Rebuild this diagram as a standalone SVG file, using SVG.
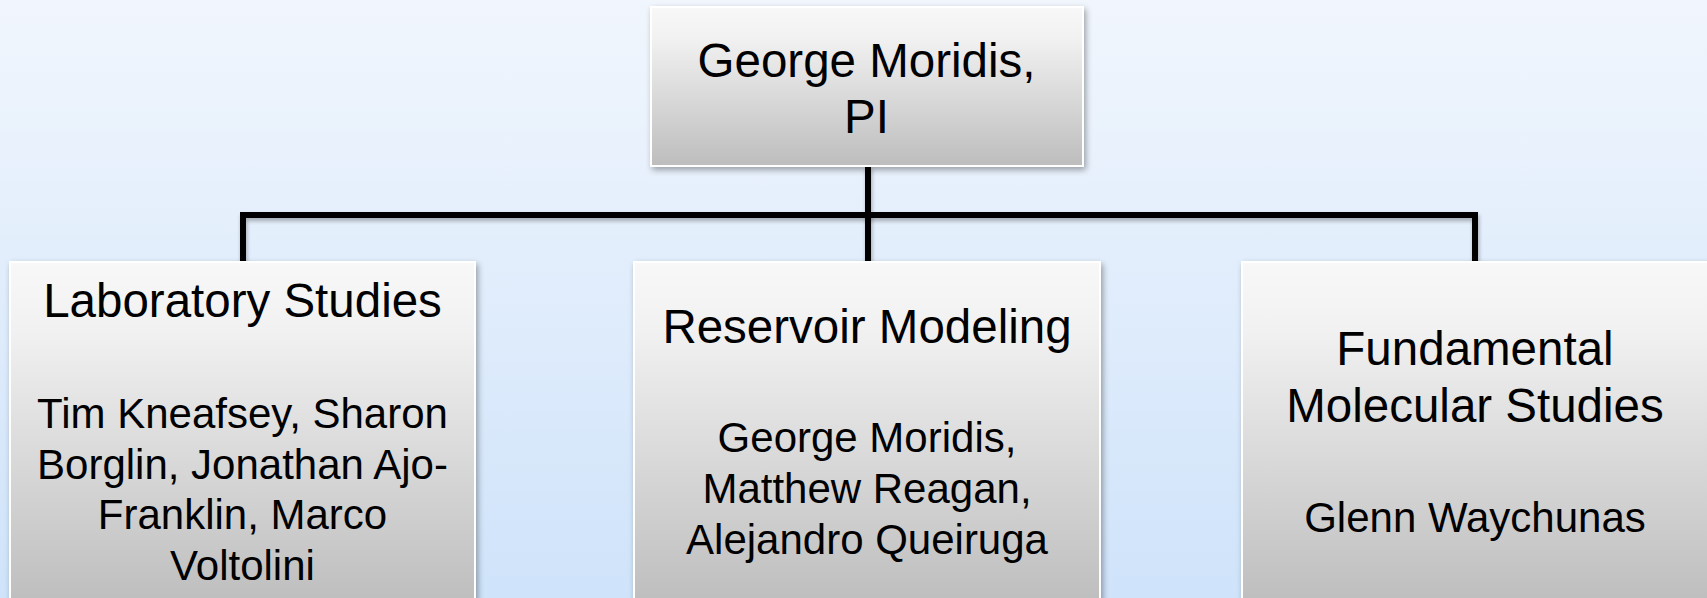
<svg xmlns="http://www.w3.org/2000/svg" width="1707" height="598" viewBox="0 0 1707 598">
  <defs>
    <linearGradient id="bg" x1="0" y1="0" x2="0" y2="1">
      <stop offset="0" stop-color="#f1f6fd"/>
      <stop offset="1" stop-color="#cfe3fa"/>
    </linearGradient>
    <linearGradient id="boxFill" x1="0" y1="0" x2="0" y2="1">
      <stop offset="0" stop-color="#f8f8f8"/>
      <stop offset="0.2" stop-color="#f1f1f1"/>
      <stop offset="1" stop-color="#bdbdbd"/>
    </linearGradient>
    <filter id="shadow" x="-10%" y="-10%" width="120%" height="130%">
      <feGaussianBlur in="SourceAlpha" stdDeviation="3"/>
      <feOffset dx="2" dy="3" result="blur"/>
      <feComponentTransfer><feFuncA type="linear" slope="0.35"/></feComponentTransfer>
      <feMerge><feMergeNode/><feMergeNode in="SourceGraphic"/></feMerge>
    </filter>
    <filter id="lineShadow" filterUnits="userSpaceOnUse" x="0" y="0" width="1707" height="598">
      <feGaussianBlur in="SourceAlpha" stdDeviation="2"/>
      <feOffset dx="1" dy="3"/>
      <feComponentTransfer><feFuncA type="linear" slope="0.3"/></feComponentTransfer>
      <feMerge><feMergeNode/><feMergeNode in="SourceGraphic"/></feMerge>
    </filter>
  </defs>
  <style>
    .box { fill: url(#boxFill); stroke: #ffffff; stroke-width: 2; filter: url(#shadow); }
    .title { font-family: "Liberation Sans", Arial, sans-serif; font-size: 47.5px; fill: #000; text-anchor: middle; }
    .names { font-family: "Liberation Sans", Arial, sans-serif; font-size: 42px; fill: #000; text-anchor: middle; }
    .conn { fill: none; stroke: #000; stroke-width: 6; stroke-linejoin: miter; filter: url(#lineShadow); }
  </style>

  <rect x="0" y="0" width="1707" height="598" fill="url(#bg)"/>

  <!-- org chart connectors -->
  <g id="connectors">
    <path class="conn" d="M243 262 V215 H1475 V262"/>
    <path class="conn" d="M868 166 V262"/>
  </g>

  <g id="node-pi">
    <rect class="box" x="651" y="7" width="432" height="159"/>
    <text class="title" x="866.5" y="77">George Moridis,</text>
    <text class="title" x="866.5" y="133">PI</text>
  </g>

  <g id="node-lab">
    <rect class="box" x="10" y="262" width="465" height="345"/>
    <text class="title" x="242.5" y="317">Laboratory Studies</text>
    <text class="names" x="242.5" y="428">Tim Kneafsey, Sharon</text>
    <text class="names" x="242.5" y="478.5">Borglin, Jonathan Ajo-</text>
    <text class="names" x="242.5" y="529">Franklin, Marco</text>
    <text class="names" x="242.5" y="579.5">Voltolini</text>
  </g>

  <g id="node-reservoir">
    <rect class="box" x="634" y="262" width="466" height="345"/>
    <text class="title" x="867" y="343">Reservoir Modeling</text>
    <text class="names" x="867" y="452">George Moridis,</text>
    <text class="names" x="867" y="503">Matthew Reagan,</text>
    <text class="names" x="867" y="554">Alejandro Queiruga</text>
  </g>

  <g id="node-molecular">
    <rect class="box" x="1242" y="262" width="466" height="345"/>
    <text class="title" x="1475" y="365">Fundamental</text>
    <text class="title" x="1475" y="422">Molecular Studies</text>
    <text class="names" x="1475" y="532">Glenn Waychunas</text>
  </g>
</svg>
